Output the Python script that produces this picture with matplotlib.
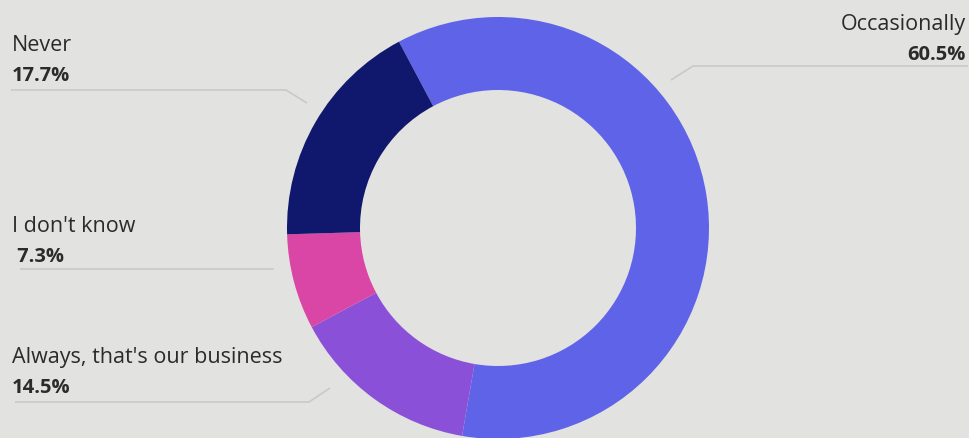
import matplotlib.pyplot as plt

# survey answers, in drawing order (clockwise from the top-left)
answers = ["Occasionally", "Always, that's our business", "I don't know", "Never"]
shares = [60.5, 14.5, 7.3, 17.7]
colors = ["#5F63E8", "#8B50D8", "#D946A5", "#10186E"]

W, H = 969, 438
bg = "#E2E2E0"
ink = "#2B2B2B"
line_col = "#C9C9CC"

fig = plt.figure(figsize=(W / 100, H / 100), dpi=100, facecolor=bg)
ax = fig.add_axes([0, 0, 1, 1])
ax.set_facecolor(bg)

# donut, pixel units (y measured from the bottom)
cx, cy, r_out, r_in = 498, H - 228, 211, 138
ax.pie(shares, colors=colors, startangle=118, counterclock=False,
       center=(cx, cy), radius=r_out,
       wedgeprops=dict(width=r_out - r_in, linewidth=0))

ax.set_xlim(0, W)
ax.set_ylim(0, H)
ax.set_aspect("equal")
ax.axis("off")

font = "Open Sans"

# label blocks: (name, value text, x, name baseline, value baseline, align, leader path)
labels = [
    ("Never", f"{shares[3]}%", 12, 51, 81, "left",
     [(11, 90), (286, 90), (307, 103)]),
    ("I don't know", f" {shares[2]}%", 12, 232, 262, "left",
     [(20, 269), (274, 269)]),
    ("Always, that's our business", f"{shares[1]}%", 12, 363, 393, "left",
     [(15, 402), (309, 402), (330, 388)]),
    ("Occasionally", f"{shares[0]}%", 966, 30, 60, "right",
     [(968, 66), (693, 66), (671, 80)]),
]

for name, val, x, y1, y2, ha, path in labels:
    ax.text(x, H - y1, name, ha=ha, va="baseline", fontsize=15.5,
            color=ink, family=font)
    ax.text(x, H - y2, val, ha=ha, va="baseline", fontsize=14.5,
            color=ink, family=font, fontweight="bold")
    xs = [p[0] for p in path]
    ys = [H - p[1] for p in path]
    ax.plot(xs, ys, color=line_col, lw=1.2, solid_capstyle="butt")

fig.savefig("out.png", dpi=100, facecolor=bg)
